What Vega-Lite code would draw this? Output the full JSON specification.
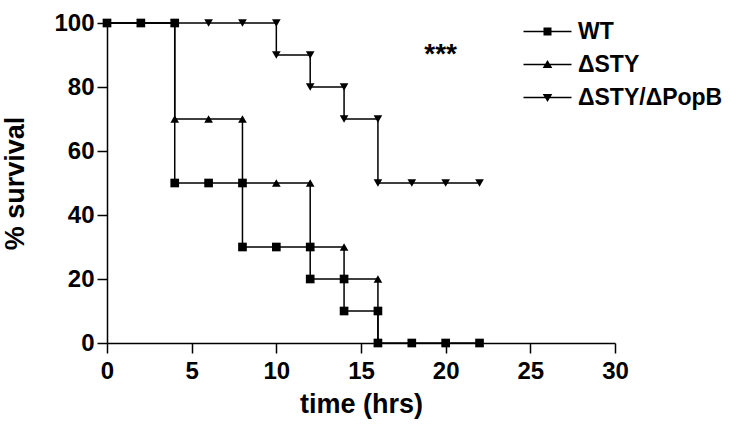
{
  "$schema": "https://vega.github.io/schema/vega-lite/v6.json",
  "width": 508,
  "height": 320,
  "autosize": {"type": "none"},
  "padding": {"left": 107, "top": 23, "right": 137, "bottom": 85},
  "background": "white",
  "config": {
    "view": {"stroke": null},
    "axis": {
      "grid": false,
      "domainColor": "black",
      "domainWidth": 1.5,
      "tickColor": "black",
      "tickWidth": 1.5,
      "tickSize": 10,
      "labelColor": "black",
      "labelFont": "Liberation Sans",
      "labelFontWeight": "bold",
      "labelFontSize": 24,
      "titleColor": "black",
      "titleFont": "Liberation Sans",
      "titleFontWeight": "bold",
      "titleFontSize": 27
    }
  },
  "data": {
    "values": [
      {"group": "ΔSTY/ΔPopB", "i": 0, "time": 0, "survival": 100},
      {"group": "ΔSTY/ΔPopB", "i": 1, "time": 2, "survival": 100},
      {"group": "ΔSTY/ΔPopB", "i": 2, "time": 4, "survival": 100},
      {"group": "ΔSTY/ΔPopB", "i": 3, "time": 6, "survival": 100},
      {"group": "ΔSTY/ΔPopB", "i": 4, "time": 8, "survival": 100},
      {"group": "ΔSTY/ΔPopB", "i": 5, "time": 10, "survival": 100},
      {"group": "ΔSTY/ΔPopB", "i": 6, "time": 10, "survival": 90},
      {"group": "ΔSTY/ΔPopB", "i": 7, "time": 12, "survival": 90},
      {"group": "ΔSTY/ΔPopB", "i": 8, "time": 12, "survival": 80},
      {"group": "ΔSTY/ΔPopB", "i": 9, "time": 14, "survival": 80},
      {"group": "ΔSTY/ΔPopB", "i": 10, "time": 14, "survival": 70},
      {"group": "ΔSTY/ΔPopB", "i": 11, "time": 16, "survival": 70},
      {"group": "ΔSTY/ΔPopB", "i": 12, "time": 16, "survival": 50},
      {"group": "ΔSTY/ΔPopB", "i": 13, "time": 18, "survival": 50},
      {"group": "ΔSTY/ΔPopB", "i": 14, "time": 20, "survival": 50},
      {"group": "ΔSTY/ΔPopB", "i": 15, "time": 22, "survival": 50},
      {"group": "ΔSTY", "i": 0, "time": 0, "survival": 100},
      {"group": "ΔSTY", "i": 1, "time": 2, "survival": 100},
      {"group": "ΔSTY", "i": 2, "time": 4, "survival": 100},
      {"group": "ΔSTY", "i": 3, "time": 4, "survival": 70},
      {"group": "ΔSTY", "i": 4, "time": 6, "survival": 70},
      {"group": "ΔSTY", "i": 5, "time": 8, "survival": 70},
      {"group": "ΔSTY", "i": 6, "time": 8, "survival": 50},
      {"group": "ΔSTY", "i": 7, "time": 10, "survival": 50},
      {"group": "ΔSTY", "i": 8, "time": 12, "survival": 50},
      {"group": "ΔSTY", "i": 9, "time": 12, "survival": 30},
      {"group": "ΔSTY", "i": 10, "time": 14, "survival": 30},
      {"group": "ΔSTY", "i": 11, "time": 14, "survival": 20},
      {"group": "ΔSTY", "i": 12, "time": 16, "survival": 20},
      {"group": "ΔSTY", "i": 13, "time": 16, "survival": 0},
      {"group": "WT", "i": 0, "time": 0, "survival": 100},
      {"group": "WT", "i": 1, "time": 2, "survival": 100},
      {"group": "WT", "i": 2, "time": 4, "survival": 100},
      {"group": "WT", "i": 3, "time": 4, "survival": 50},
      {"group": "WT", "i": 4, "time": 6, "survival": 50},
      {"group": "WT", "i": 5, "time": 8, "survival": 50},
      {"group": "WT", "i": 6, "time": 8, "survival": 30},
      {"group": "WT", "i": 7, "time": 10, "survival": 30},
      {"group": "WT", "i": 8, "time": 12, "survival": 30},
      {"group": "WT", "i": 9, "time": 12, "survival": 20},
      {"group": "WT", "i": 10, "time": 14, "survival": 20},
      {"group": "WT", "i": 11, "time": 14, "survival": 10},
      {"group": "WT", "i": 12, "time": 16, "survival": 10},
      {"group": "WT", "i": 13, "time": 16, "survival": 0},
      {"group": "WT", "i": 14, "time": 18, "survival": 0},
      {"group": "WT", "i": 15, "time": 20, "survival": 0},
      {"group": "WT", "i": 16, "time": 22, "survival": 0}
    ]
  },
  "encoding": {
    "x": {
      "field": "time",
      "type": "quantitative",
      "scale": {"domain": [0, 30], "nice": false, "zero": false},
      "axis": {"values": [0, 5, 10, 15, 20, 25, 30], "title": "time (hrs)", "labelPadding": 6, "titlePadding": 8, "labelFlush": false}
    },
    "y": {
      "field": "survival",
      "type": "quantitative",
      "scale": {"domain": [0, 100], "nice": false},
      "axis": {"values": [0, 20, 40, 60, 80, 100], "title": "% survival", "labelPadding": 3, "titlePadding": 24, "labelFlush": false}
    }
  },
  "layer": [
    {
      "mark": {"type": "line", "color": "black", "strokeWidth": 1.5, "clip": false},
      "encoding": {
        "detail": {"field": "group"},
        "order": {"field": "i", "type": "quantitative"}
      }
    },
    {
      "mark": {"type": "point", "filled": true, "color": "black", "opacity": 1, "size": 75, "clip": false},
      "encoding": {
        "shape": {
          "field": "group",
          "type": "nominal",
          "scale": {"domain": ["WT", "ΔSTY", "ΔSTY/ΔPopB"], "range": ["square", "triangle-up", "triangle-down"]},
          "legend": null
        }
      }
    },
    {
      "mark": {"type": "point", "filled": true, "color": "black", "opacity": 0, "size": 256},
      "encoding": {
        "shape": {
          "field": "group",
          "type": "nominal",
          "scale": {
            "domain": ["WT", "ΔSTY", "ΔSTY/ΔPopB"],
            "range": [
              "M-3,-0.09H3V0.09H-3ZM-0.5,-0.5H0.5V0.5H-0.5Z",
              "M-3,-0.09H3V0.09H-3ZM-0.6,0.45L0,-0.55L0.6,0.45Z",
              "M-3,-0.09H3V0.09H-3ZM0.6,-0.45L0,0.55L-0.6,-0.45Z"
            ]
          },
          "legend": {
            "title": null,
            "orient": "none",
            "legendX": 429,
            "legendY": -3,
            "symbolSize": 256,
            "symbolOpacity": 1,
            "symbolFillColor": "black",
            "labelFont": "Liberation Sans",
            "labelFontWeight": "bold",
            "labelFontSize": 23,
            "labelColor": "black",
            "labelOffset": 19,
            "rowPadding": 9,
            "labelLimit": 300
          }
        }
      }
    },
    {
      "data": {"values": [{"x": 19.7, "y": 90, "t": "***"}]},
      "mark": {"type": "text", "font": "Liberation Sans", "fontWeight": "bold", "fontSize": 28, "color": "black", "baseline": "middle", "align": "center"},
      "encoding": {
        "x": {"field": "x", "type": "quantitative"},
        "y": {"field": "y", "type": "quantitative"},
        "text": {"field": "t"}
      }
    }
  ],
  "resolve": {"scale": {"shape": "independent"}, "legend": {"shape": "independent"}}
}
